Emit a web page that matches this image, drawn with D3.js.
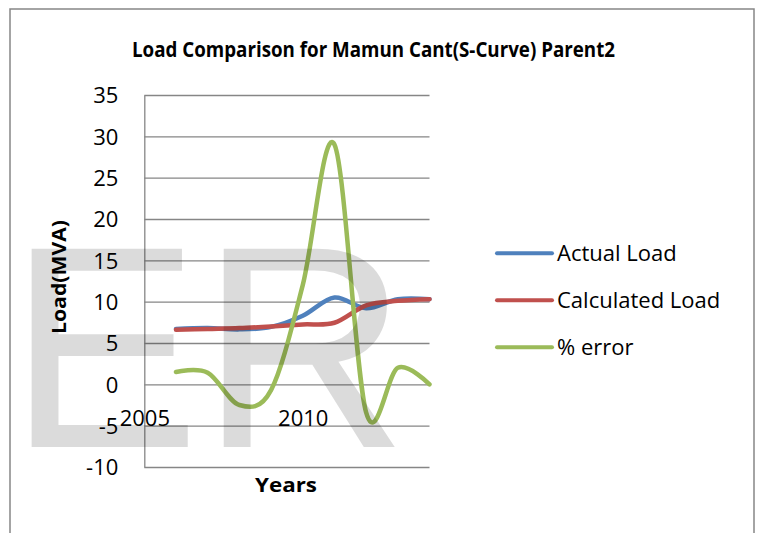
<!DOCTYPE html>
<html>
<head>
<meta charset="utf-8">
<script src="https://cdn.jsdelivr.net/npm/d3@7"></script>
<style>
  body { margin: 0; background: #fff; }
  svg { display: block; }
</style>
</head>
<body>
<div class="svg-container"></div>
<script>
// data
const years = [2006, 2007, 2008, 2009, 2010, 2011, 2012, 2013, 2014];
const actualLoad = [6.7, 6.8, 6.65, 6.95, 8.3, 10.5, 9.2, 10.3, 10.3];
const calculatedLoad = [6.6, 6.7, 6.8, 7.0, 7.25, 7.45, 9.55, 10.1, 10.3];
const percentError = [1.5, 1.4, -2.5, -0.7, 12.0, 29.0, -3.4, 2.0, 0.0];
const seriesNames = ['Actual Load', 'Calculated Load', '% error'];
const seriesColors = ['#4f81bd', '#c0504d', '#9bbb59'];
const yTicks = [-10, -5, 0, 5, 10, 15, 20, 25, 30, 35];
const xTicks = [2005, 2010];

const svgWidth = 759;
const svgHeight = 533;
const gridColor = '#868686';
const tickFont = '"Open Sans", "Noto Sans", sans-serif';

const svg = d3.select('.svg-container').append('svg')
  .attr('width', svgWidth)
  .attr('height', svgHeight);

// chart area border
svg.append('rect')
  .attr('x', 10).attr('y', 9)
  .attr('width', 744).attr('height', 540)
  .attr('fill', 'none')
  .attr('stroke', gridColor)
  .attr('stroke-width', 1.5);

const xScale = d3.scaleLinear().domain([2005, 2014]).range([144.3, 429.5]);
const yScale = d3.scaleLinear().domain([-10, 35]).range([467, 95]);
const plotW = xScale.range()[1] - xScale.range()[0];

// y axis with gridlines (plain hyphen for negatives, like the original)
const yAxis = d3.axisLeft(yScale)
  .tickValues(yTicks)
  .tickSize(-plotW)
  .tickSizeOuter(0)
  .tickPadding(26)
  .tickFormat(d => String(d));

const yAxisGroup = svg.append('g')
  .attr('transform', 'translate(' + xScale.range()[0] + ',0)')
  .call(yAxis);
yAxisGroup.select('.domain').attr('stroke', gridColor).attr('stroke-width', 1.3);
yAxisGroup.selectAll('.tick line').attr('stroke', gridColor).attr('stroke-width', 1.3);
yAxisGroup.selectAll('.tick text')
  .attr('font-family', tickFont)
  .attr('font-size', 22)
  .attr('fill', '#000')
  .attr('dy', '0.35em');

// x axis labels
const xAxis = d3.axisBottom(xScale)
  .tickValues(xTicks)
  .tickSize(0)
  .tickPadding(0)
  .tickFormat(d => String(d));
const xAxisGroup = svg.append('g')
  .attr('transform', 'translate(0,410)')
  .call(xAxis);
xAxisGroup.select('.domain').remove();
xAxisGroup.selectAll('.tick text')
  .attr('font-family', tickFont)
  .attr('font-size', 22)
  .attr('fill', '#000');

// smoothed lines
const seriesData = [actualLoad, calculatedLoad, percentError];
const line = d3.line()
  .x((d, i) => xScale(years[i]))
  .y(d => yScale(d))
  .curve(d3.curveCardinal.tension(0));

svg.selectAll('path.series')
  .data(seriesData)
  .enter()
  .append('path')
  .attr('class', 'series')
  .attr('d', d => line(d))
  .attr('fill', 'none')
  .attr('stroke', (d, i) => seriesColors[i])
  .attr('stroke-width', 4.5)
  .attr('stroke-linecap', 'round')
  .attr('stroke-linejoin', 'round');

// title
svg.append('text')
  .attr('x', 373.5)
  .attr('y', 57)
  .attr('text-anchor', 'middle')
  .attr('font-family', tickFont)
  .attr('font-weight', 'bold')
  .attr('font-size', 21)
  .attr('textLength', 483)
  .attr('lengthAdjust', 'spacingAndGlyphs')
  .text('Load Comparison for Mamun Cant(S-Curve) Parent2');

// axis titles
svg.append('text')
  .attr('transform', 'translate(66,277) rotate(-90)')
  .attr('text-anchor', 'middle')
  .attr('font-family', tickFont)
  .attr('font-weight', 'bold')
  .attr('font-size', 20)
  .attr('textLength', 114)
  .attr('lengthAdjust', 'spacingAndGlyphs')
  .text('Load(MVA)');

svg.append('text')
  .attr('x', 286)
  .attr('y', 492)
  .attr('text-anchor', 'middle')
  .attr('font-family', tickFont)
  .attr('font-weight', 'bold')
  .attr('font-size', 20)
  .attr('textLength', 62)
  .attr('lengthAdjust', 'spacingAndGlyphs')
  .text('Years');

// legend
const legend = svg.selectAll('g.legend')
  .data(seriesNames)
  .enter()
  .append('g')
  .attr('class', 'legend')
  .attr('transform', (d, i) => 'translate(497,' + (253.3 + i * 47) + ')');
legend.append('line')
  .attr('x1', 0).attr('x2', 55)
  .attr('stroke', (d, i) => seriesColors[i])
  .attr('stroke-width', 4)
  .attr('stroke-linecap', 'round');
legend.append('text')
  .attr('x', 60)
  .attr('dy', '0.33em')
  .attr('font-family', tickFont)
  .attr('font-size', 22)
  .text(d => d);

// watermark overlay
svg.append('text')
  .attr('x', 8)
  .attr('y', 447)
  .attr('font-family', '"Liberation Sans", Arial, sans-serif')
  .attr('font-size', 288)
  .attr('fill', '#000')
  .attr('fill-opacity', 0.14)
  .text('ER');
</script>
</body>
</html>
